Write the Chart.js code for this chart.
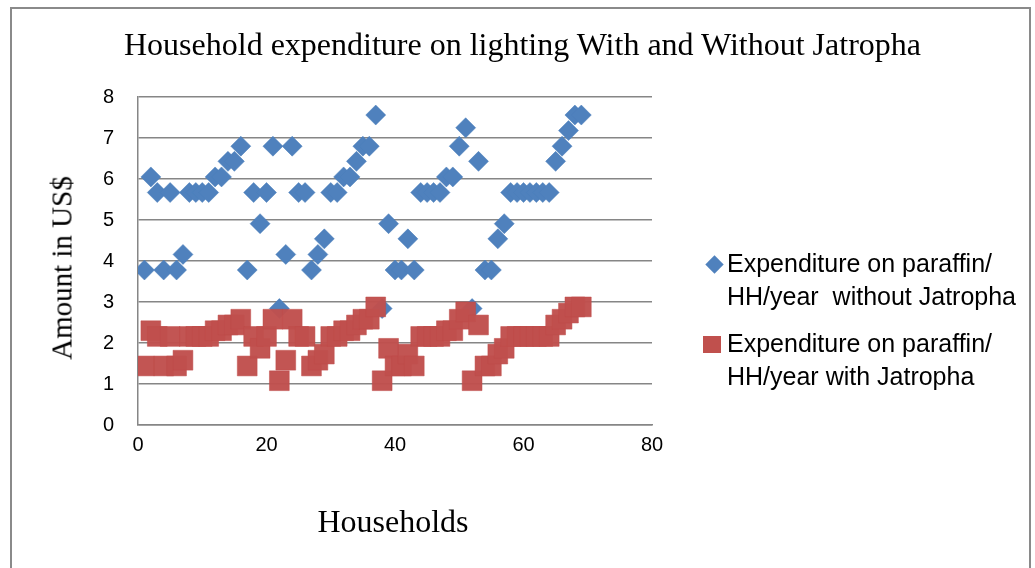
<!DOCTYPE html>
<html><head><meta charset="utf-8">
<script src="https://cdn.jsdelivr.net/npm/chart.js@4/dist/chart.umd.min.js"></script>
<style>
html,body{margin:0;padding:0;background:#fff;}
#wrap{position:relative;width:1035px;height:568px;overflow:hidden;}
#frame{position:absolute;left:10px;top:7px;width:1021px;height:620px;border:2px solid #8a8a8a;box-sizing:border-box;}
canvas{position:absolute;left:0;top:0;}
.t{position:absolute;white-space:nowrap;color:#000;}
#title{left:0;width:1045px;top:28px;text-align:center;font:32px/32px "Liberation Serif","Times New Roman",serif;}
#ytitle{left:62px;top:268px;transform:translate(-50%,-50%) rotate(-90deg);font:29px/29px "Liberation Serif",serif;}
#xtitle{left:393px;top:505px;transform:translateX(-50%);font:32px/32px "Liberation Serif",serif;}
.leg{position:absolute;left:727px;font:25px "Liberation Sans",Arial,sans-serif;line-height:33px;color:#000;white-space:pre;}
.mk{position:absolute;}
</style></head>
<body><div id="wrap">
<div id="frame"></div>
<canvas id="c" width="1035" height="568"></canvas>
<div class="t" id="title">Household expenditure on lighting With and Without Jatropha</div>
<div class="t" id="ytitle">Amount in US$</div>
<div class="t" id="xtitle">Households</div>
<div class="mk" style="left:707.5px;top:257.5px;width:13px;height:13px;background:#4F81BD;transform:rotate(45deg);"></div>
<div class="leg" style="top:247px;">Expenditure on paraffin/
HH/year  without Jatropha</div>
<div class="mk" style="left:703px;top:336px;width:18px;height:17px;background:#C0504D;"></div>
<div class="leg" style="top:327px;">Expenditure on paraffin/
HH/year with Jatropha</div>
</div>
<script>
const households = [];
for (let i = 1; i <= 69; i++) households.push(i);
const withoutJatropha = [3.78,6.05,5.67,3.78,5.67,3.78,4.16,5.67,5.67,5.67,5.67,6.05,6.05,6.43,6.43,6.8,3.78,5.67,4.91,5.67,6.8,2.84,4.16,6.8,5.67,5.67,3.78,4.16,4.54,5.67,5.67,6.05,6.05,6.43,6.8,6.8,7.56,2.84,4.91,3.78,3.78,4.54,3.78,5.67,5.67,5.67,5.67,6.05,6.05,6.8,7.25,2.84,6.43,3.78,3.78,4.54,4.91,5.67,5.67,5.67,5.67,5.67,5.67,5.67,6.43,6.8,7.18,7.56,7.56];
const withJatropha = [1.44,2.3,2.16,1.44,2.16,1.44,1.58,2.16,2.16,2.16,2.16,2.3,2.3,2.44,2.44,2.58,1.44,2.16,1.87,2.16,2.58,1.08,1.58,2.58,2.16,2.16,1.44,1.58,1.73,2.16,2.16,2.3,2.3,2.44,2.58,2.58,2.88,1.08,1.87,1.44,1.44,1.73,1.44,2.16,2.16,2.16,2.16,2.3,2.3,2.58,2.76,1.08,2.44,1.44,1.44,1.73,1.87,2.16,2.16,2.16,2.16,2.16,2.16,2.16,2.44,2.58,2.73,2.88,2.88];
const yTicks = [0,1,2,3,4,5,6,7,8];
const xTicks = [0,20,40,60,80];

const pts = (arr) => arr.map((v, i) => ({x: households[i], y: v}));

new Chart(document.getElementById('c'), {
  type: 'scatter',
  data: {
    datasets: [
      {label: 'Expenditure on paraffin/HH/year  without Jatropha', data: pts(withoutJatropha),
       pointStyle: 'rectRot', pointRadius: 10, pointHoverRadius: 10,
       backgroundColor: '#4F81BD', borderColor: '#4A7EBB', borderWidth: 0.5, order: 2},
      {label: 'Expenditure on paraffin/HH/year with Jatropha', data: pts(withJatropha),
       pointStyle: 'rect', pointRadius: 14, pointHoverRadius: 14,
       backgroundColor: 'rgba(192,80,77,0.97)', borderColor: '#BE4B48', borderWidth: 0.5, order: 1}
    ]
  },
  options: {
    responsive: false, animation: false,
    layout: {padding: {left: 88, top: 97, right: 383, bottom: 111}},
    plugins: {legend: {display: false}, title: {display: false}, tooltip: {enabled: false}},
    scales: {
      x: {
        type: 'linear', min: 0, max: 80,
        afterBuildTicks: (s) => { s.ticks = xTicks.map(v => ({value: v})); },
        afterFit: (s) => { s.height = 32; },
        grid: {display: false, drawTicks: false},
        border: {display: true, color: '#868686', width: 1.5},
        ticks: {padding: 8, color: '#000', font: {family: 'Liberation Sans', size: 20}, maxRotation: 0}
      },
      y: {
        type: 'linear', min: 0, max: 8,
        afterBuildTicks: (s) => { s.ticks = yTicks.map(v => ({value: v})); },
        afterFit: (s) => { s.width = 50; },
        grid: {color: '#868686', lineWidth: 1.5, drawTicks: false},
        border: {display: true, color: '#868686', width: 1.5},
        ticks: {padding: 24, color: '#000', font: {family: 'Liberation Sans', size: 20}}
      }
    }
  }
});
</script>
</body></html>
